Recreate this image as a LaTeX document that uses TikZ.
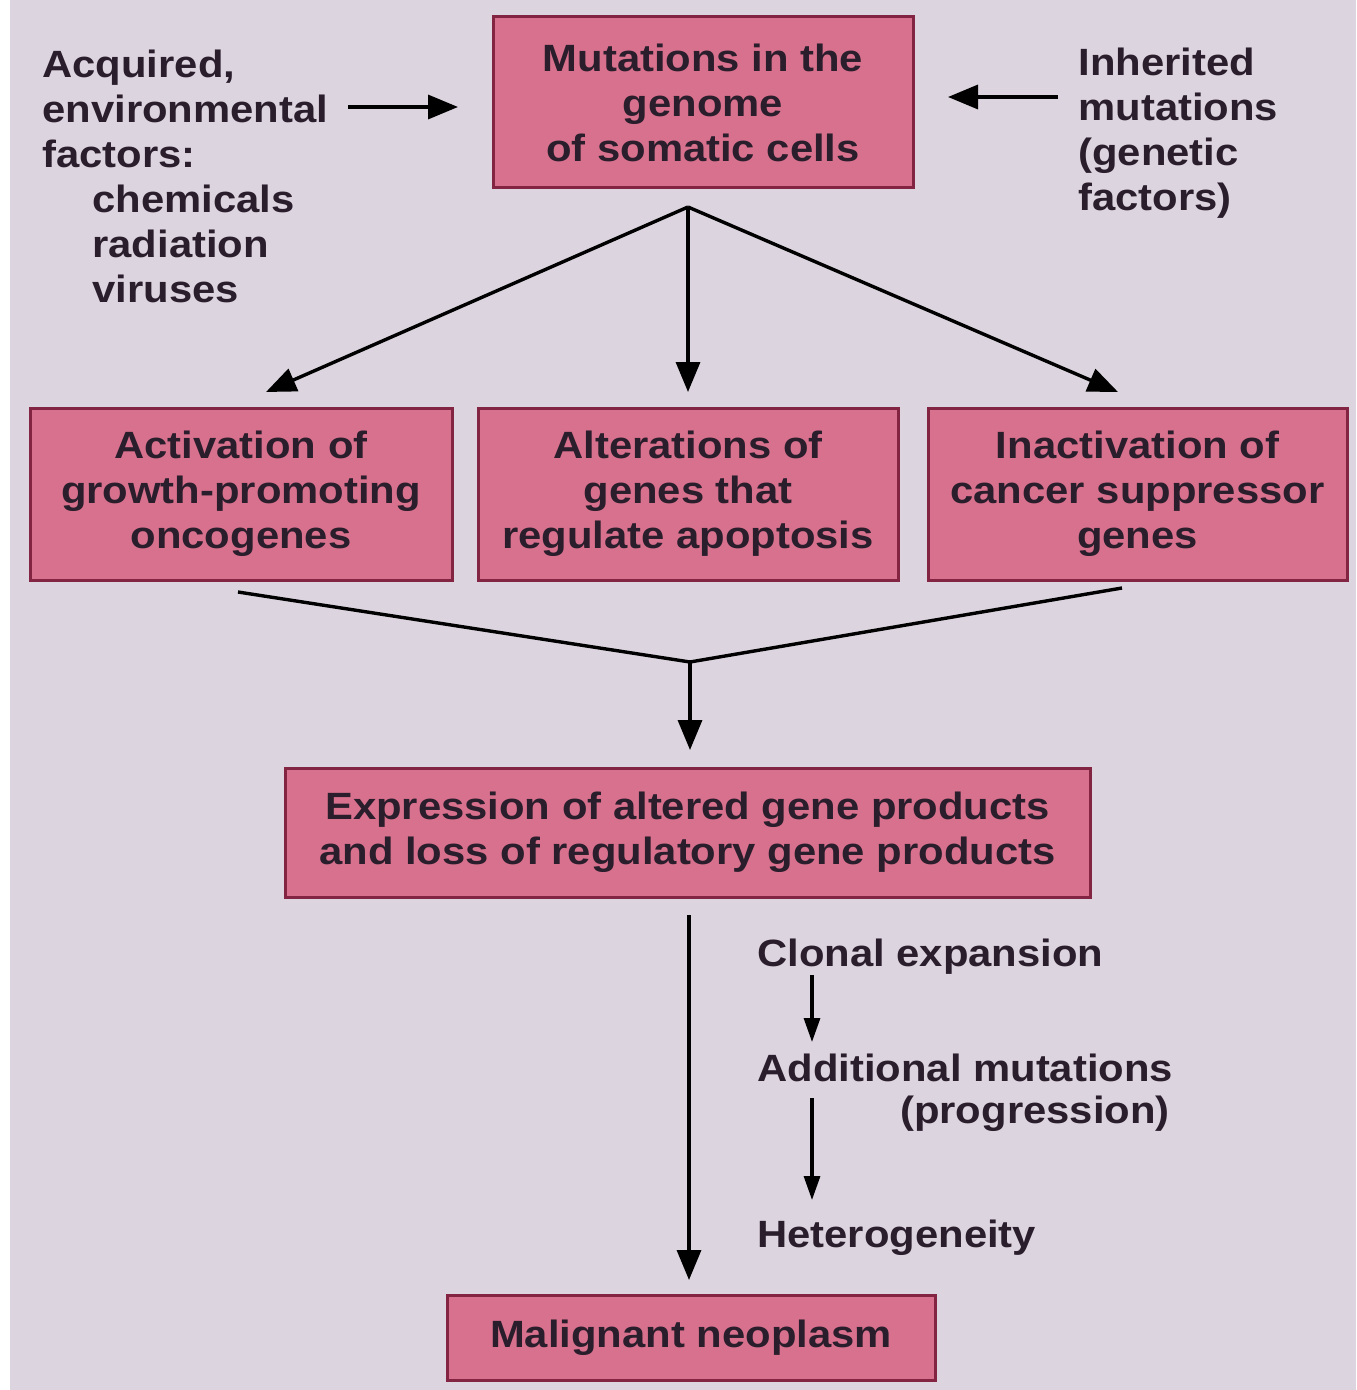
\documentclass[tikz,border=0pt]{standalone}
\usepackage{fontspec}
\setmainfont[FakeStretch=1.1]{Liberation Sans}
\usetikzlibrary{arrows.meta,calc}
\definecolor{bg}{HTML}{DCD4DF}
\definecolor{boxfill}{HTML}{D8718D}
\definecolor{boxline}{HTML}{842443}
\definecolor{ink}{HTML}{2A1E2C}
\begin{document}
\begin{tikzpicture}[x=0.5pt,y=-0.5pt,
  every node/.style={font=\bfseries\fontsize{19}{22.5}\selectfont, text=ink},
  box/.style={draw=boxline, fill=boxfill, line width=1.5pt, align=center, inner sep=0pt},
  lbl/.style={align=left, inner sep=0pt},
  arr/.style={draw=black, line width=1.7pt, -{Triangle[length=15pt,width=12pt]}},
  sarr/.style={draw=black, line width=1.6pt, -{Triangle[length=12pt,width=8pt]}},
  ln/.style={draw=black, line width=1.7pt}]
\useasboundingbox (0,0) rectangle (1356,1390);
\fill[white] (0,0) rectangle (1356,1390);
\fill[bg] (10,0) rectangle (1356,1390);

% boxes
\node[box, minimum width=210pt, minimum height=85.5pt] (top) at (703,102.5)
  {Mutations in the\\genome\\of somatic cells};
\node[box, minimum width=211pt, minimum height=86pt] (b1) at (241,494)
  {Activation of\\growth-promoting\\oncogenes};
\node[box, minimum width=210pt, minimum height=86pt] (b2) at (688,494)
  {Alterations of\\genes that\\regulate apoptosis};
\node[box, minimum width=209.5pt, minimum height=86pt] (b3) at (1137.5,494)
  {Inactivation of\\cancer suppressor\\genes};
\node[box, minimum width=402.5pt, minimum height=64.5pt] (expr) at (687.5,832.5)
  {Expression of altered gene products\\and loss of regulatory gene products};
\node[box, minimum width=244pt, minimum height=42.5pt] (mal) at (691,1337.5)
  {Malignant neoplasm};

% side texts
\node[lbl, anchor=north west] (acq) at (42,50)
  {Acquired,\\environmental\\factors:\\\hspace*{25pt}chemicals\\\hspace*{25pt}radiation\\\hspace*{25pt}viruses};
\node[lbl, anchor=north west] (inh) at (1078,48)
  {Inherited\\mutations\\(genetic\\factors)};
\node[lbl, anchor=west] (clon) at (757,957) {Clonal expansion};
\node[lbl, anchor=west] (addm) at (757,1068) {Additional mutations};
\node[lbl, anchor=east] (prog) at (1170,1114) {(progression)};
\node[lbl, anchor=west] (het) at (757,1238) {Heterogeneity};

% coordinates
\coordinate (lfrom) at (348,107);
\coordinate (lto) at (458,107);
\coordinate (rfrom) at (1058,97);
\coordinate (rto) at (948,97);
\coordinate (split) at (688,207);
\coordinate (t1) at (266,392);
\coordinate (t2) at (688,392);
\coordinate (t3) at (1118,392);
\coordinate (m1) at (238,592);
\coordinate (m3) at (1122,588);
\coordinate (merge) at (690,662);
\coordinate (mto) at (690,750);
\coordinate (lfrom2) at (689,915);
\coordinate (lto2) at (689,1280);
\coordinate (s1a) at (812,975);
\coordinate (s1b) at (812,1042);
\coordinate (s2a) at (812,1098);
\coordinate (s2b) at (812,1200);

% connectors
\draw[arr] (lfrom) -- (lto);
\draw[arr] (rfrom) -- (rto);
\draw[arr] (split) -- (t1);
\draw[arr] (split) -- (t2);
\draw[arr] (split) -- (t3);
\draw[ln] (m1) -- (merge) -- (m3);
\draw[arr] (merge) -- (mto);
\draw[arr] (lfrom2) -- (lto2);
\draw[sarr] (s1a) -- (s1b);
\draw[sarr] (s2a) -- (s2b);
\end{tikzpicture}
\end{document}
